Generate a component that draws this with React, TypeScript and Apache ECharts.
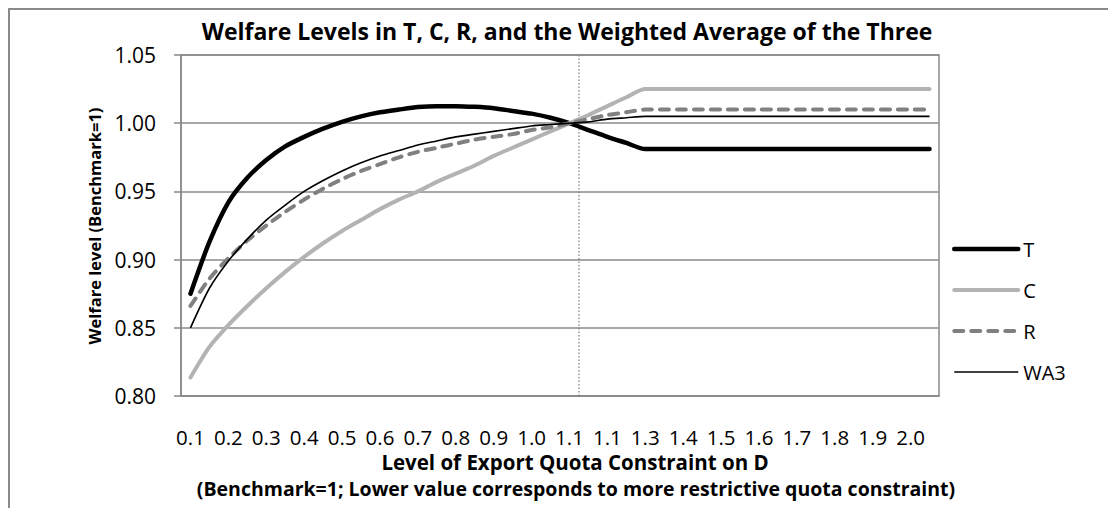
import React, { useEffect, useRef } from "react";
import * as echarts from "echarts";

const categories = [
  "0.10","0.15","0.20","0.25","0.30","0.35","0.40","0.45","0.50","0.55",
  "0.60","0.65","0.70","0.75","0.80","0.85","0.90","0.95","1.00","1.05",
  "1.10","1.12","1.15","1.20","1.30","1.35","1.40","1.45","1.50","1.55",
  "1.60","1.65","1.70","1.75","1.80","1.85","1.90","1.95","2.00","2.05",
];
const xTickLabels = [
  "0.1","0.2","0.3","0.4","0.5","0.6","0.7","0.8","0.9","1.0",
  "1.1","1.1","1.3","1.4","1.5","1.6","1.7","1.8","1.9","2.0",
];
const seriesT = [
  0.875,0.913,0.942,0.960,0.973,0.983,0.990,0.996,1.001,1.005,
  1.008,1.010,1.0118,1.0125,1.0125,1.012,1.011,1.009,1.007,1.004,
  1.000,0.995,0.990,0.9855,0.981,0.981,0.981,0.981,0.981,0.981,
  0.981,0.981,0.981,0.981,0.981,0.981,0.981,0.981,0.981,0.981,
];
const seriesC = [
  0.8136,0.836,0.852,0.866,0.879,0.891,0.902,0.912,0.921,0.929,
  0.937,0.944,0.950,0.957,0.963,0.969,0.976,0.982,0.988,0.994,
  1.000,1.006,1.0125,1.019,1.025,1.025,1.025,1.025,1.025,1.025,
  1.025,1.025,1.025,1.025,1.025,1.025,1.025,1.025,1.025,1.025,
];
const seriesR = [
  0.866,0.886,0.901,0.914,0.925,0.935,0.944,0.952,0.959,0.965,
  0.970,0.975,0.979,0.982,0.985,0.988,0.990,0.992,0.995,0.997,
  1.000,1.003,1.006,1.008,1.010,1.010,1.010,1.010,1.010,1.010,
  1.010,1.010,1.010,1.010,1.010,1.010,1.010,1.010,1.010,1.010,
];
const seriesWA3 = [
  0.850,0.879,0.899,0.915,0.929,0.940,0.950,0.958,0.965,0.971,
  0.976,0.980,0.984,0.987,0.990,0.992,0.994,0.996,0.998,0.999,
  1.000,1.001,1.003,1.004,1.005,1.005,1.005,1.005,1.005,1.005,
  1.005,1.005,1.005,1.005,1.005,1.005,1.005,1.005,1.005,1.005,
];
const benchmarkBoundary = 21;

const FONT = '"Open Sans", "Noto Sans", sans-serif';
const GRID_COLOR = "#8a8a8a";

export default function App() {
  const ref = useRef<HTMLDivElement>(null);
  useEffect(() => {
    if (!ref.current) return;
    const chart = echarts.init(ref.current, undefined, { renderer: "svg" });
    const lineSeries = (name: string, data: number[], lineStyle: any) => ({
      name, type: "line", data, symbol: "none", smooth: 0.25,
      lineStyle, itemStyle: { color: lineStyle.color },
    });
    chart.setOption({
      animation: false,
      textStyle: { fontFamily: FONT },
      grid: {
        left: 173, top: 47, right: 177, bottom: 112,
        show: true, borderColor: GRID_COLOR, borderWidth: 1.5,
      },
      legend: {
        data: ["T", "C", "R", "WA3"],
        orient: "vertical",
        left: 939, top: 226,
        itemWidth: 64, itemHeight: 14, itemGap: 21,
        itemStyle: { opacity: 0 },
        lineStyle: { width: "inherit", type: "inherit" },
        textStyle: { fontSize: 20, color: "#000", fontFamily: FONT },
      },
      xAxis: [
        {
          type: "category",
          data: categories,
          axisLine: { lineStyle: { color: GRID_COLOR, width: 1.5 } },
          axisTick: { interval: 0, inside: true, length: 5, lineStyle: { color: GRID_COLOR, width: 1.5 } },
          axisLabel: {
            interval: 1,
            margin: 30,
            fontSize: 20.5,
            color: "#000",
            fontFamily: FONT,
            formatter: (_v: string, i: number) => xTickLabels[i / 2] ?? "",
          },
          splitLine: { show: false },
        },
        { type: "value", min: 0, max: categories.length, show: false },
      ],
      yAxis: {
        type: "value",
        min: 0.8, max: 1.05, interval: 0.05,
        axisLine: { show: true, lineStyle: { color: GRID_COLOR, width: 1.5 } },
        axisTick: { show: true, length: 7, lineStyle: { color: GRID_COLOR, width: 1.5 } },
        axisLabel: {
          margin: 25, fontSize: 21, color: "#000", fontFamily: FONT,
          formatter: (v: number) => v.toFixed(2),
        },
        splitLine: { lineStyle: { color: GRID_COLOR, width: 1.5 } },
      },
      series: [
        {
          type: "line", xAxisIndex: 1, data: [[benchmarkBoundary, 0.8], [benchmarkBoundary, 1.05]],
          symbol: "none", silent: true,
          lineStyle: { color: "#7a7a7a", width: 1.2, type: [1.5, 2] },
        },
        lineSeries("T", seriesT, { color: "#000", width: 4.5, cap: "round" }),
        lineSeries("C", seriesC, { color: "#b3b3b3", width: 4, cap: "round" }),
        lineSeries("R", seriesR, { color: "#808080", width: 4, type: [9, 8], cap: "round" }),
        lineSeries("WA3", seriesWA3, { color: "#000", width: 1.6 }),
      ],
      graphic: [
        { type: "line", shape: { x1: 0, y1: 1, x2: 1108, y2: 1 }, style: { stroke: GRID_COLOR, lineWidth: 2 } },
        { type: "line", shape: { x1: 1, y1: 0, x2: 1, y2: 500 }, style: { stroke: GRID_COLOR, lineWidth: 2 } },
        {
          type: "text", x: 559, y: 23,
          style: {
            text: "Welfare Levels in T, C, R, and the Weighted Average of the Three",
            fontSize: 23, fontWeight: "bold", fontFamily: FONT, fill: "#000",
            textAlign: "center", textVerticalAlign: "middle",
          },
        },
        {
          type: "text", x: 86, y: 218, rotation: Math.PI / 2,
          style: {
            text: "Welfare level (Benchmark=1)",
            fontSize: 16.5, fontWeight: "bold", fontFamily: FONT, fill: "#000",
            textAlign: "center", textVerticalAlign: "middle",
          },
        },
        {
          type: "text", x: 567, y: 454,
          style: {
            text: "Level of Export Quota Constraint on D",
            fontSize: 20.5, fontWeight: "bold", fontFamily: FONT, fill: "#000",
            textAlign: "center", textVerticalAlign: "middle",
          },
        },
        {
          type: "text", x: 568, y: 480,
          style: {
            text: "(Benchmark=1; Lower value corresponds to more restrictive quota constraint)",
            fontSize: 19.5, fontWeight: "bold", fontFamily: FONT, fill: "#000",
            textAlign: "center", textVerticalAlign: "middle",
          },
        },
      ],
    });
    return () => chart.dispose();
  }, []);
  return <div ref={ref} style={{ width: 1108, height: 500 }} />;
}
